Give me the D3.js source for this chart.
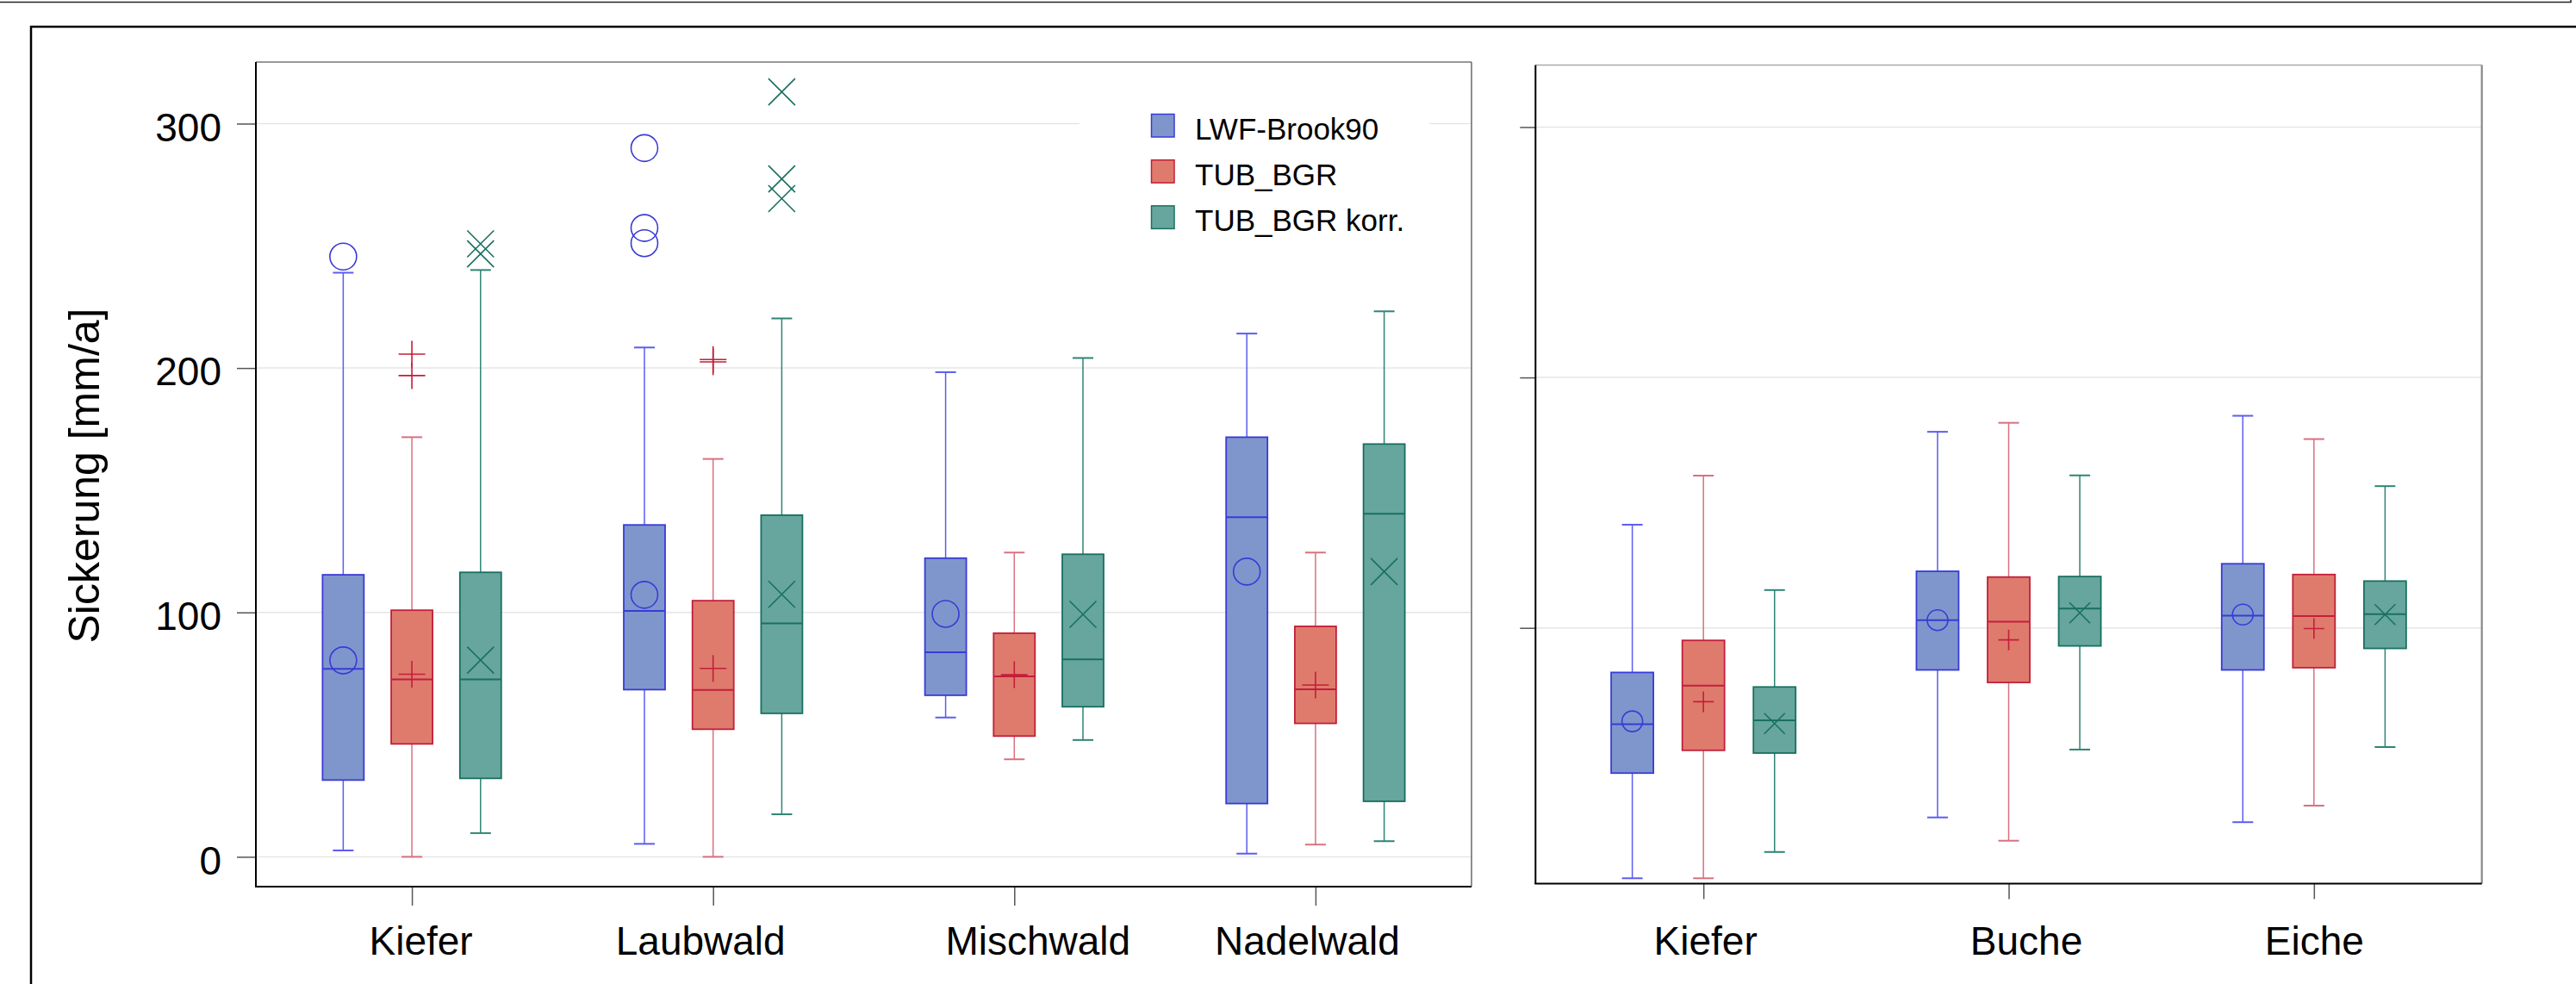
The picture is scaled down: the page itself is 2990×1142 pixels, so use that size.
<!DOCTYPE html>
<html>
<head>
<meta charset="utf-8">
<script src="https://cdn.jsdelivr.net/npm/d3@7"></script>
<style>
  html, body { margin: 0; padding: 0; background: #ffffff; }
  svg { display: block; }
  text { font-family: "Liberation Sans", Arial, sans-serif; fill: #000; }
</style>
</head>
<body>
<svg id="chart" width="2990" height="1142"></svg>
<script>
// ---- data -------------------------------------------------------------
const seriesNames = ["LWF-Brook90", "TUB_BGR", "TUB_BGR korr."];
const leftCategories = ["Kiefer", "Laubwald", "Mischwald", "Nadelwald"];
const rightCategories = ["Kiefer", "Buche", "Eiche"];
const leftTicks = [0, 100, 200, 300];
const rightTicks = [100, 200, 300];
const yLabel = "Sickerung [mm/a]";

// box statistics per category: [min, q1, median, q3, max]
const lwfLeft  = [[2.6, 31.4, 76.9, 115.4, 239.0], [5.3, 68.4, 100.6, 135.8, 208.4], [57.0, 66.1, 83.7, 122.2, 198.3], [1.3, 21.8, 139.0, 171.7, 214.1]];
const tubLeft  = [[0.0, 46.2, 72.6, 100.9, 171.7], [0.0, 52.2, 68.3, 104.8, 162.8], [39.9, 49.4, 73.8, 91.5, 124.5], [5.0, 54.6, 68.5, 94.3, 124.5]];
const korrLeft = [[9.7, 32.1, 72.6, 116.4, 240.1], [17.4, 58.7, 95.5, 139.8, 220.3], [47.8, 61.4, 80.8, 123.8, 204.1], [6.4, 22.7, 140.4, 168.9, 223.2]];
const lwfLeftMeans  = [80.4, 107.2, 99.4, 116.7];
const tubLeftMeans  = [74.7, 77.1, 74.5, 70.3];
const korrLeftMeans = [80.5, 107.4, 99.2, 116.7];
const lwfLeftOutliers  = [[245.6], [290.0, 257.3, 251.1], [], []];
const tubLeftOutliers  = [[205.7, 196.9], [203.5, 202.5], [], []];
const korrLeftOutliers = [[250.8, 246.7], [313.0, 277.4, 269.3], [], []];

const lwfRight  = [[0.0, 42.0, 61.5, 82.2, 141.2], [24.3, 83.2, 103.1, 122.6, 178.3], [22.4, 83.2, 104.9, 125.6, 184.7]];
const tubRight  = [[0.0, 51.1, 76.9, 95.0, 160.8], [15.0, 78.2, 102.5, 120.3, 181.9], [29.0, 84.1, 104.7, 121.3, 175.4]];
const korrRight = [[10.5, 50.0, 63.1, 76.4, 115.1], [51.4, 92.8, 107.7, 120.5, 160.9], [52.4, 91.8, 105.5, 118.7, 156.6]];
const lwfRightMeans  = [62.7, 103.1, 105.3];
const tubRightMeans  = [70.5, 95.2, 99.7];
const korrRightMeans = [61.8, 106.0, 105.3];

// ---- styling ----------------------------------------------------------
const styles = [
  { fill: "#7f96cc", stroke: "#3a3ad6", whisker: "#5c5cf0", marker: "circle" },
  { fill: "#df7b6d", stroke: "#c21f3a", whisker: "#d8717f", marker: "plus" },
  { fill: "#66a69e", stroke: "#19705f", whisker: "#2e8474", marker: "cross" }
];

const svg = d3.select("#chart");

// outer figure frame
svg.append("rect").attr("x", -2).attr("y", -4).attr("width", 2986).attr("height", 6.5)
  .attr("fill", "none").attr("stroke", "#222").attr("stroke-width", 1.5);
svg.append("path").attr("d", "M36,1142 V31 H2992")
  .attr("fill", "none").attr("stroke", "#000").attr("stroke-width", 2.5);

function buildSeries(stats, means, outliers) {
  return stats.map((s, i) => ({
    min: s[0], q1: s[1], median: s[2], q3: s[3], max: s[4],
    mean: means[i], outliers: outliers ? outliers[i] : []
  }));
}

function drawMarker(g, type, cx, cy, r, color) {
  if (type === "circle") {
    g.append("circle").attr("cx", cx).attr("cy", cy).attr("r", r)
      .attr("fill", "none").attr("stroke", color).attr("stroke-width", 1.6);
  } else if (type === "plus") {
    g.append("path").attr("d", `M${cx - r},${cy}H${cx + r}M${cx},${cy - r}V${cy + r}`)
      .attr("stroke", color).attr("stroke-width", 1.6).attr("fill", "none");
  } else {
    g.append("path").attr("d", `M${cx - r},${cy - r}L${cx + r},${cy + r}M${cx - r},${cy + r}L${cx + r},${cy - r}`)
      .attr("stroke", color).attr("stroke-width", 1.6).attr("fill", "none");
  }
}

function drawPanel(cfg) {
  const { left, right, top, bottom, categories, domain, ticks, labelTicks,
          series, padding, offsetFrac, boxW, markerR, tickLen, xPad, labelNudge } = cfg;
  const g = svg.append("g");

  const x = d3.scalePoint().domain(categories).range([left, right]).padding(padding);
  const y = d3.scaleLinear().domain(domain).range([bottom, top]);
  const off = x.step() * offsetFrac;

  // gridlines
  g.append("g").selectAll("line").data(ticks).join("line")
    .attr("x1", left).attr("x2", right)
    .attr("y1", d => y(d)).attr("y2", d => y(d))
    .attr("stroke", "#e6e6e6").attr("stroke-width", 1.5);

  // y axis
  const yAxis = d3.axisLeft(y).tickValues(ticks).tickSize(tickLen).tickPadding(18)
    .tickFormat(labelTicks ? d3.format("d") : () => "");
  const ya = g.append("g").attr("transform", `translate(${left},0)`).call(yAxis);
  ya.select(".domain").remove();
  ya.selectAll(".tick line").attr("stroke", "#555").attr("stroke-width", 1.5);
  ya.selectAll(".tick text").attr("font-size", 46).attr("dy", "0.43em")
    .style("font-family", '"Liberation Sans", Arial, sans-serif');

  // x axis
  const xAxis = d3.axisBottom(x).tickSize(tickLen).tickPadding(xPad);
  const xa = g.append("g").attr("transform", `translate(0,${bottom})`).call(xAxis);
  xa.select(".domain").remove();
  xa.selectAll(".tick line").attr("stroke", "#555").attr("stroke-width", 1.5);
  xa.selectAll(".tick text").attr("font-size", 46)
    .attr("dx", (d, i) => labelNudge[i])
    .style("font-family", '"Liberation Sans", Arial, sans-serif');

  // boxes
  series.forEach((data, si) => {
    const st = styles[si];
    data.forEach((d, ci) => {
      const cx = x(categories[ci]) + (si - 1) * off;
      const bg = g.append("g");
      // whiskers
      bg.append("line").attr("x1", cx).attr("x2", cx).attr("y1", y(d.max)).attr("y2", y(d.q3))
        .attr("stroke", st.whisker).attr("stroke-width", 1.5);
      bg.append("line").attr("x1", cx).attr("x2", cx).attr("y1", y(d.q1)).attr("y2", y(d.min))
        .attr("stroke", st.whisker).attr("stroke-width", 1.5);
      [d.max, d.min].forEach(v => {
        bg.append("line").attr("x1", cx - 12).attr("x2", cx + 12).attr("y1", y(v)).attr("y2", y(v))
          .attr("stroke", st.whisker).attr("stroke-width", 2);
      });
      // box
      bg.append("rect").attr("x", cx - boxW / 2).attr("y", y(d.q3))
        .attr("width", boxW).attr("height", y(d.q1) - y(d.q3))
        .attr("fill", st.fill).attr("stroke", st.stroke).attr("stroke-width", 1.8);
      // median
      bg.append("line").attr("x1", cx - boxW / 2).attr("x2", cx + boxW / 2)
        .attr("y1", y(d.median)).attr("y2", y(d.median))
        .attr("stroke", st.stroke).attr("stroke-width", 2);
      // mean
      drawMarker(bg, st.marker, cx, y(d.mean), markerR, st.stroke);
      // outliers
      d.outliers.forEach(v => drawMarker(bg, st.marker, cx, y(v), markerR, st.stroke));
    });
  });

  // frame
  g.append("line").attr("x1", left).attr("x2", right).attr("y1", top).attr("y2", top)
    .attr("stroke", cfg.topColor).attr("stroke-width", 1.5);
  g.append("line").attr("x1", right).attr("x2", right).attr("y1", top).attr("y2", bottom)
    .attr("stroke", cfg.rightColor).attr("stroke-width", cfg.rightWidth);
  g.append("line").attr("x1", left).attr("x2", left).attr("y1", top).attr("y2", bottom)
    .attr("stroke", "#000").attr("stroke-width", 2);
  g.append("line").attr("x1", left - 1).attr("x2", right).attr("y1", bottom).attr("y2", bottom)
    .attr("stroke", "#000").attr("stroke-width", 2);

  return { x, y, g };
}

drawPanel({
  left: 297, right: 1708, top: 72, bottom: 1029,
  categories: leftCategories, domain: [-12.2, 325.2], ticks: leftTicks, labelTicks: true,
  series: [
    buildSeries(lwfLeft, lwfLeftMeans, lwfLeftOutliers),
    buildSeries(tubLeft, tubLeftMeans, tubLeftOutliers),
    buildSeries(korrLeft, korrLeftMeans, korrLeftOutliers)
  ],
  padding: 0.518, offsetFrac: 0.228, boxW: 48, markerR: 15.5, tickLen: 22, xPad: 24,
  labelNudge: [10, -15, 27, -10],
  topColor: "#777", rightColor: "#444", rightWidth: 1.2
});

drawPanel({
  left: 1782.3, right: 2880.7, top: 75.4, bottom: 1025.4,
  categories: rightCategories, domain: [-2.1, 324.8], ticks: rightTicks, labelTicks: false,
  series: [
    buildSeries(lwfRight, lwfRightMeans, null),
    buildSeries(tubRight, tubRightMeans, null),
    buildSeries(korrRight, korrRightMeans, null)
  ],
  padding: 0.55, offsetFrac: 0.233, boxW: 49, markerR: 12, tickLen: 18, xPad: 32,
  labelNudge: [2, 20, 0],
  topColor: "#aaa", rightColor: "#888", rightWidth: 2.2
});

// y-axis title
svg.append("text")
  .attr("transform", "translate(115,552) rotate(-90)")
  .attr("text-anchor", "middle")
  .attr("font-size", 50)
  .text(yLabel);

// legend
const legend = svg.append("g");
legend.append("rect").attr("x", 1253).attr("y", 100).attr("width", 406).attr("height", 190)
  .attr("fill", "#fff");
seriesNames.forEach((name, i) => {
  const yy = 132.5 + i * 53.2;
  legend.append("rect").attr("x", 1336.5).attr("y", yy).attr("width", 26.5).attr("height", 26.5)
    .attr("fill", styles[i].fill).attr("stroke", styles[i].stroke).attr("stroke-width", 1.5);
  legend.append("text").attr("x", 1387).attr("y", yy + 29.3).attr("font-size", 35).text(name);
});
</script>
</body>
</html>
